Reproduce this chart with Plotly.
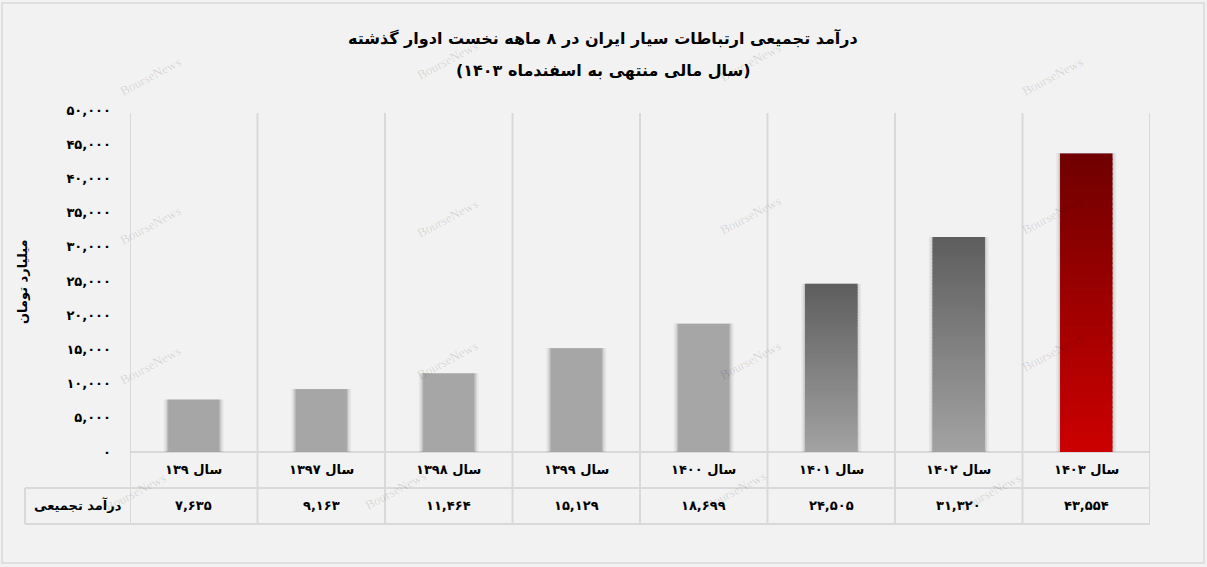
import plotly.graph_objects as go

# ---------------- data ----------------
categories = ["سال ۱۳۹", "سال ۱۳۹۷", "سال ۱۳۹۸", "سال ۱۳۹۹",
              "سال ۱۴۰۰", "سال ۱۴۰۱", "سال ۱۴۰۲", "سال ۱۴۰۳"]
values = [7635, 9163, 11464, 15129, 18699, 24505, 31320, 43554]
row_label = "درآمد تجمیعی"
y_title = "میلیارد تومان"
title_line1 = "درآمد تجمیعی ارتباطات سیار ایران در ۸ ماهه نخست ادوار گذشته"
title_line2 = "(سال مالی منتهی به اسفندماه ۱۴۰۳)"
y_ticks = [0, 5000, 10000, 15000, 20000, 25000, 30000, 35000, 40000, 45000, 50000]

# ---------------- styles ----------------
top_colors = ["#a6a6a6"] * 5 + ["#5e5e5e", "#5e5e5e", "#700000"]
bottom_colors = ["#a6a6a6"] * 5 + ["#a3a3a3", "#a3a3a3", "#cc0000"]
BG = "#f2f2f2"
LINE = "#d9d9d9"
FONT = "DejaVu Sans"

PERSIAN = str.maketrans("0123456789", "۰۱۲۳۴۵۶۷۸۹")


def fa_num(v):
    return f"{v:,}".translate(PERSIAN)


def hex_to_rgb(h):
    h = h.lstrip("#")
    return tuple(int(h[i:i + 2], 16) for i in (0, 2, 4))


def mix(c1, c2, t):
    a, b = hex_to_rgb(c1), hex_to_rgb(c2)
    r = [round(a[i] + (b[i] - a[i]) * t) for i in range(3)]
    return f"rgb({r[0]},{r[1]},{r[2]})"


W, H = 1207, 567
L, R, T, B = 130, 57, 110, 115
PW, PH = W - L - R, H - T - B


def px(x):
    return (x - L) / PW


def py(y):
    return (H - B - y) / PH


def note(text, x, y, xref="paper", size=13, color="#000", family=FONT, angle=0):
    fig.add_annotation(x=x, xref=xref, y=y, yref="paper", text=text, showarrow=False,
                       xanchor="center", yanchor="middle", textangle=angle,
                       font=dict(size=size, color=color, family=family))


fig = go.Figure()

# soft shadow behind bars
for w, a in [(0.47, 0.05), (0.44, 0.08), (0.42, 0.10)]:
    fig.add_trace(go.Bar(
        x=categories, y=[v * 1.004 for v in values], width=w,
        marker=dict(color=f"rgba(0,0,0,{a})", line=dict(width=0)),
        hoverinfo="skip", showlegend=False))

# bars: flat ones drawn whole, gradient ones built from thin slices
for c, v, ct, cb in zip(categories, values, top_colors, bottom_colors):
    n_slices = 1 if ct == cb else 60
    for k in range(n_slices):
        t = 1 - (k + 0.5) / n_slices  # 0 at top, 1 at bottom
        col = ct if n_slices == 1 else mix(ct, cb, t)
        fig.add_trace(go.Bar(
            x=[c], y=[v / n_slices], base=[v * k / n_slices], width=0.4,
            marker=dict(color=col, line=dict(color=col, width=0 if n_slices == 1 else 1.4)),
            hoverinfo="skip", showlegend=False))

# watermarks
for (wx, wy) in [(150, 76), (447, 60), (750, 62), (1052, 76),
                 (150, 225), (447, 218), (750, 215), (1052, 215),
                 (150, 365), (447, 360), (750, 360), (1052, 352),
                 (135, 492), (395, 490), (735, 490), (990, 492)]:
    note("BourseNews", px(wx), py(wy), size=13, color="rgba(0,0,0,0.12)",
         family="Liberation Serif", angle=-28)

# table texts
for c, v in zip(categories, values):
    note(f"<b>{c}</b>", c, py(469), xref="x", size=13)
    note(f"<b>{fa_num(v)}</b>", c, py(505), xref="x", size=13)
note(f"<b>{row_label}</b>", px(78), py(505), size=13)

# titles
note(f"<b>{title_line1}</b>", 0.5 * (px(2) + px(1204)), py(38), size=16)
note(f"<b>{title_line2}</b>", 0.5 * (px(2) + px(1204)), py(70), size=16)
# y title
note(f"<b>{y_title}</b>", px(22), py(282), size=13, angle=-90)

# table / grid lines
shapes = []
n = len(categories)
for i in range(n + 1):
    shapes.append(dict(type="line", xref="x", yref="paper", x0=i - 0.5, x1=i - 0.5,
                       y0=py(524), y1=py(113), line=dict(color=LINE, width=2), layer="below"))
shapes.append(dict(type="line", xref="x", yref="paper", x0=-0.5, x1=n - 0.5, y0=0, y1=0,
                   line=dict(color=LINE, width=2), layer="below"))
for yy in (488, 524):
    shapes.append(dict(type="line", xref="paper", yref="paper", x0=px(25), x1=1, y0=py(yy), y1=py(yy),
                       line=dict(color=LINE, width=2), layer="below"))
shapes.append(dict(type="line", xref="paper", yref="paper", x0=px(25), x1=px(25), y0=py(488), y1=py(524),
                   line=dict(color=LINE, width=2), layer="below"))
# outer border
shapes.append(dict(type="rect", xref="paper", yref="paper", x0=px(2), x1=px(1204), y0=py(563), y1=py(3),
                   line=dict(color=LINE, width=1.5), fillcolor="rgba(0,0,0,0)", layer="below"))

fig.update_layout(
    width=W, height=H,
    margin=dict(l=L, r=R, t=T, b=B),
    paper_bgcolor=BG, plot_bgcolor=BG,
    barmode="overlay",
    showlegend=False,
    shapes=shapes,
    xaxis=dict(type="category", categoryorder="array", categoryarray=categories,
               range=[-0.5, n - 0.5], showticklabels=False, showgrid=False,
               zeroline=False, showline=False, fixedrange=True),
    yaxis=dict(range=[0, 50000], tickvals=y_ticks,
               ticktext=[f"<b>{fa_num(v)}</b>" for v in y_ticks],
               showgrid=False, zeroline=False, showline=False,
               ticks="", ticklabelstandoff=18,
               tickfont=dict(size=13, color="#000", family=FONT), fixedrange=True),
)

fig.write_html("out.html", config={"displayModeBar": False},
               post_script="document.body.style.margin='0';document.body.style.overflow='hidden';"
                           "document.body.style.background='#f2f2f2';")
